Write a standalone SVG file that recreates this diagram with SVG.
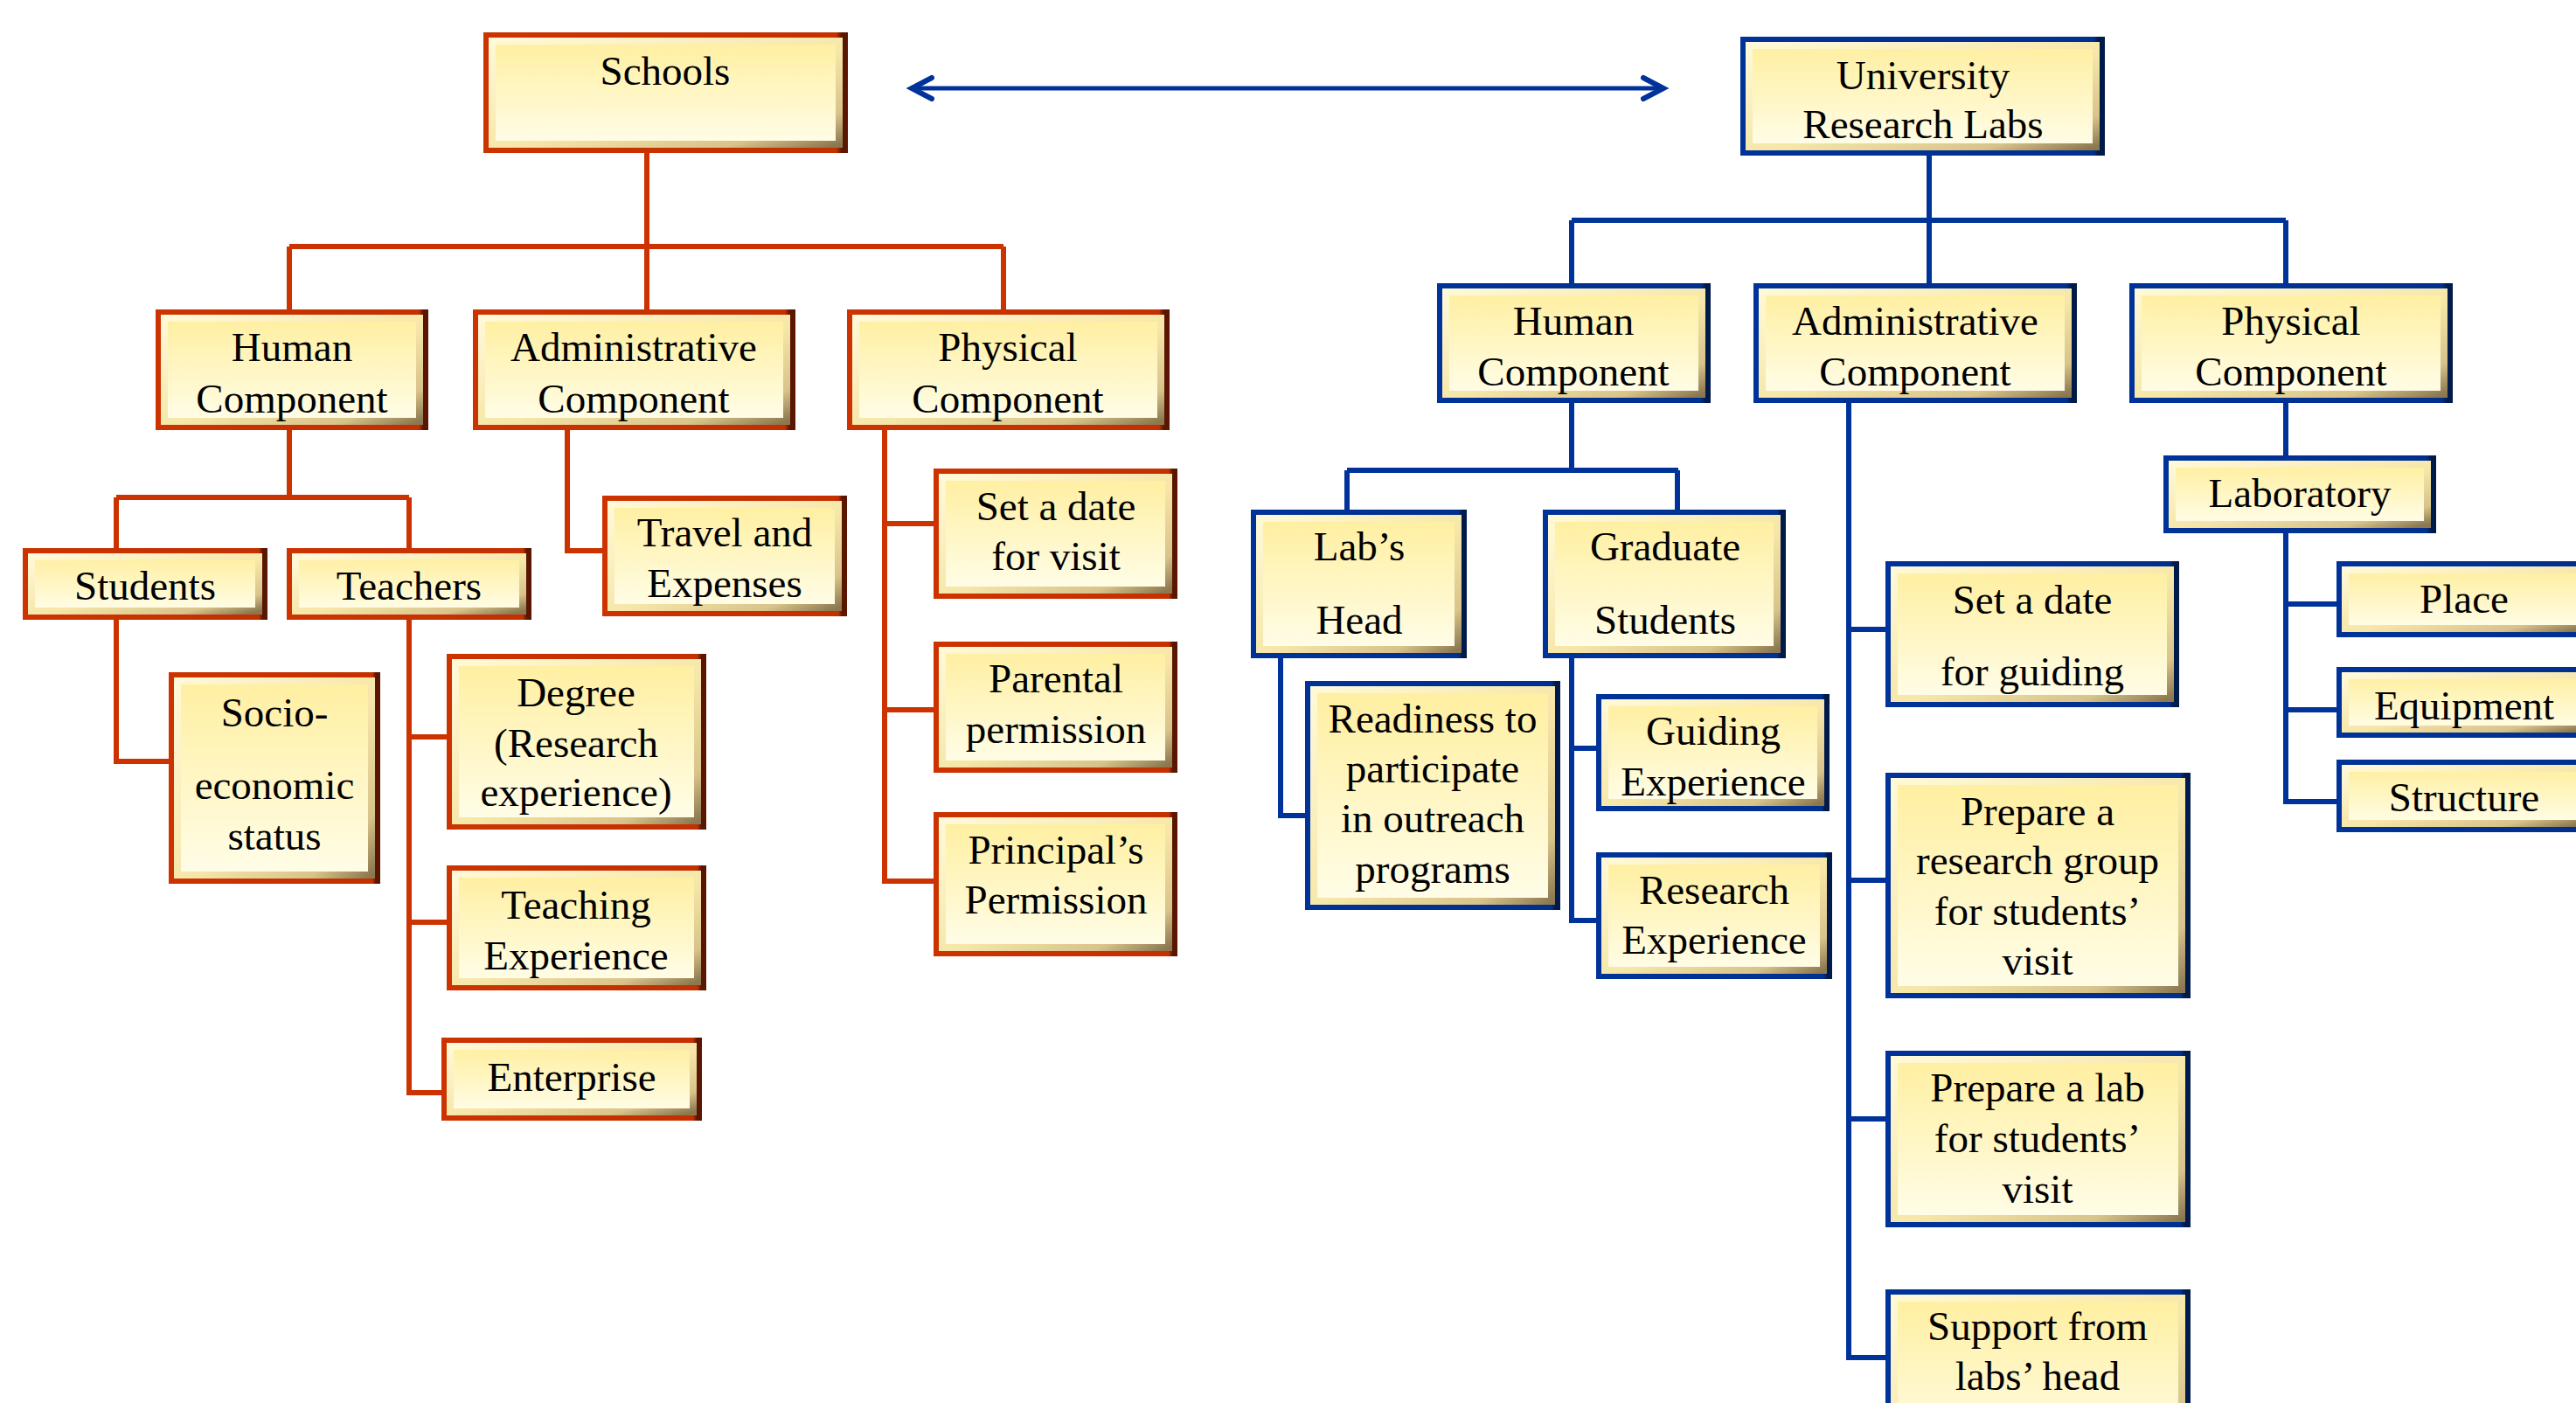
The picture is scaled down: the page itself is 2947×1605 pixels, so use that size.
<svg xmlns="http://www.w3.org/2000/svg" width="2947" height="1605" viewBox="0 0 2947 1605">
<defs>
<linearGradient id="fill" x1="0" y1="0" x2="0" y2="1">
<stop offset="0" stop-color="#FFEFA0"/>
<stop offset="1" stop-color="#FFFDE8"/>
</linearGradient>
<linearGradient id="bev" x1="0" y1="0" x2="1" y2="1">
<stop offset="0" stop-color="#FFF9D8"/>
<stop offset="0.55" stop-color="#F6E6A8"/>
<stop offset="0.85" stop-color="#D8C38A"/>
<stop offset="1" stop-color="#8C7850"/>
</linearGradient>
<linearGradient id="gR" x1="0" y1="0" x2="1" y2="0">
<stop offset="0" stop-color="#CC3300"/>
<stop offset="0.975" stop-color="#C43000"/>
<stop offset="0.99" stop-color="#5A1600"/>
</linearGradient>
<linearGradient id="gB" x1="0" y1="0" x2="1" y2="0">
<stop offset="0" stop-color="#003399"/>
<stop offset="0.975" stop-color="#00308F"/>
<stop offset="0.99" stop-color="#001A4A"/>
</linearGradient>
<marker id="chev" markerUnits="userSpaceOnUse" viewBox="-30 -20 40 40" markerWidth="40" markerHeight="40" refX="0" refY="0" orient="auto-start-reverse">
<path d="M-23,-12 L0,0 L-23,12" fill="none" stroke="#003399" stroke-width="6" stroke-linecap="round" stroke-linejoin="miter"/>
</marker>
<style>
.bd{fill:none;stroke-width:6}
.r .bd{stroke:url(#gR)}
.b .bd{stroke:url(#gB)}
.in{fill:url(#fill);stroke:url(#bev);stroke-width:8}
text{font-family:"Liberation Serif","Times New Roman",serif;font-size:47px;fill:#000;text-anchor:middle}
.cr{fill:none;stroke:#CC3300;stroke-width:6}
.cb{fill:none;stroke:#003399;stroke-width:6}
</style>
</defs>
<rect width="2947" height="1605" fill="#FFFFFF"/>

<g id="connectors">
<g class="cr">
<path d="M740,175V282M331,282H1148M331,282V355M740,282V355M1148,282V355"/>
<path d="M331,492V569M133,569H468M133,569V628M468,569V628"/>
<path d="M133,709V871H194"/>
<path d="M468,709V1250H506M468,843H511M468,1055H511"/>
<path d="M649,492V630H690"/>
<path d="M1012,492V1008H1069M1012,599H1069M1012,812H1069"/>
</g>
<g class="cb">
<path d="M2207,178V252M1798,252H2615M1798,252V325M2207,252V325M2615,252V325"/>
<path d="M1798,461V538M1541,538H1920M1541,538V584M1919,538V584"/>
<path d="M1465,753V933H1494"/>
<path d="M1798,753V1053H1827M1798,856H1827"/>
<path d="M2115,461V1553H2157M2115,720H2157M2115,1007H2157M2115,1280H2157"/>
<path d="M2615,461V521"/>
<path d="M2615,610V917H2673M2615,691H2673M2615,812H2673"/>
</g>
<path d="M1043,101H1903" fill="none" stroke="#003399" stroke-width="5" marker-start="url(#chev)" marker-end="url(#chev)"/>
</g>

<g id="schools" class="r"><rect class="bd" x="556" y="40" width="411" height="132"/><rect class="in" x="563" y="47" width="397" height="118"/><text x="761" y="97">Schools</text></g>
<g id="human-l" class="r"><rect class="bd" x="181" y="357" width="306" height="132"/><rect class="in" x="188" y="364" width="292" height="118"/><text x="334" y="413">Human</text><text x="334" y="472">Component</text></g>
<g id="admin-l" class="r"><rect class="bd" x="544" y="357" width="363" height="132"/><rect class="in" x="551" y="364" width="349" height="118"/><text x="725" y="413">Administrative</text><text x="725" y="472">Component</text></g>
<g id="physical-l" class="r"><rect class="bd" x="972" y="357" width="363" height="132"/><rect class="in" x="979" y="364" width="349" height="118"/><text x="1153" y="413">Physical</text><text x="1153" y="472">Component</text></g>
<g id="students-l" class="r"><rect class="bd" x="29" y="630" width="274" height="76"/><rect class="in" x="36" y="637" width="260" height="62"/><text x="166" y="686">Students</text></g>
<g id="teachers" class="r"><rect class="bd" x="331" y="630" width="274" height="76"/><rect class="in" x="338" y="637" width="260" height="62"/><text x="468" y="686">Teachers</text></g>
<g id="socio" class="r"><rect class="bd" x="196" y="772" width="236" height="236"/><rect class="in" x="203" y="779" width="222" height="222"/><text x="314" y="831">Socio-</text><text x="314" y="914">economic</text><text x="314" y="972">status</text></g>
<g id="degree" class="r"><rect class="bd" x="514" y="751" width="291" height="195"/><rect class="in" x="521" y="758" width="277" height="181"/><text x="659" y="808">Degree</text><text x="659" y="866">(Research</text><text x="659" y="922">experience)</text></g>
<g id="teaching" class="r"><rect class="bd" x="514" y="993" width="291" height="137"/><rect class="in" x="521" y="1000" width="277" height="123"/><text x="659" y="1051">Teaching</text><text x="659" y="1109">Experience</text></g>
<g id="enterprise" class="r"><rect class="bd" x="508" y="1190" width="292" height="89"/><rect class="in" x="515" y="1197" width="278" height="75"/><text x="654" y="1248">Enterprise</text></g>
<g id="travel" class="r"><rect class="bd" x="692" y="570" width="274" height="132"/><rect class="in" x="699" y="577" width="260" height="118"/><text x="829" y="625">Travel and</text><text x="829" y="683">Expenses</text></g>
<g id="date-visit" class="r"><rect class="bd" x="1071" y="539" width="273" height="143"/><rect class="in" x="1078" y="546" width="259" height="129"/><text x="1208" y="595">Set a date</text><text x="1208" y="652">for visit</text></g>
<g id="parental" class="r"><rect class="bd" x="1071" y="737" width="273" height="144"/><rect class="in" x="1078" y="744" width="259" height="130"/><text x="1208" y="792">Parental</text><text x="1208" y="850">permission</text></g>
<g id="principal" class="r"><rect class="bd" x="1071" y="932" width="273" height="159"/><rect class="in" x="1078" y="939" width="259" height="145"/><text x="1208" y="988">Principal’s</text><text x="1208" y="1045">Permission</text></g>

<g id="university" class="b"><rect class="bd" x="1994" y="45" width="411" height="130"/><rect class="in" x="2001" y="52" width="397" height="116"/><text x="2200" y="102">University</text><text x="2200" y="158">Research Labs</text></g>
<g id="human-r" class="b"><rect class="bd" x="1647" y="327" width="307" height="131"/><rect class="in" x="1654" y="334" width="293" height="117"/><text x="1800" y="383">Human</text><text x="1800" y="441">Component</text></g>
<g id="admin-r" class="b"><rect class="bd" x="2009" y="327" width="364" height="131"/><rect class="in" x="2016" y="334" width="350" height="117"/><text x="2191" y="383">Administrative</text><text x="2191" y="441">Component</text></g>
<g id="physical-r" class="b"><rect class="bd" x="2439" y="327" width="364" height="131"/><rect class="in" x="2446" y="334" width="350" height="117"/><text x="2621" y="383">Physical</text><text x="2621" y="441">Component</text></g>
<g id="labs-head" class="b"><rect class="bd" x="1434" y="586" width="241" height="164"/><rect class="in" x="1441" y="593" width="227" height="150"/><text x="1555" y="641">Lab’s</text><text x="1555" y="725">Head</text></g>
<g id="graduate" class="b"><rect class="bd" x="1768" y="586" width="272" height="164"/><rect class="in" x="1775" y="593" width="258" height="150"/><text x="1905" y="641">Graduate</text><text x="1905" y="725">Students</text></g>
<g id="readiness" class="b"><rect class="bd" x="1496" y="782" width="286" height="256"/><rect class="in" x="1503" y="789" width="272" height="242"/><text x="1639" y="838">Readiness to</text><text x="1639" y="895">participate</text><text x="1639" y="952">in outreach</text><text x="1639" y="1010">programs</text></g>
<g id="guiding" class="b"><rect class="bd" x="1829" y="797" width="261" height="128"/><rect class="in" x="1836" y="804" width="247" height="114"/><text x="1960" y="852">Guiding</text><text x="1960" y="910">Experience</text></g>
<g id="research-exp" class="b"><rect class="bd" x="1829" y="978" width="264" height="139"/><rect class="in" x="1836" y="985" width="250" height="125"/><text x="1961" y="1034">Research</text><text x="1961" y="1091">Experience</text></g>
<g id="date-guiding" class="b"><rect class="bd" x="2160" y="645" width="330" height="161"/><rect class="in" x="2167" y="652" width="316" height="147"/><text x="2325" y="702">Set a date</text><text x="2325" y="784">for guiding</text></g>
<g id="research-group" class="b"><rect class="bd" x="2160" y="887" width="343" height="252"/><rect class="in" x="2167" y="894" width="329" height="238"/><text x="2331" y="944">Prepare a</text><text x="2331" y="1000">research group</text><text x="2331" y="1058">for students’</text><text x="2331" y="1115">visit</text></g>
<g id="prepare-lab" class="b"><rect class="bd" x="2160" y="1205" width="343" height="196"/><rect class="in" x="2167" y="1212" width="329" height="182"/><text x="2331" y="1260">Prepare a lab</text><text x="2331" y="1318">for students’</text><text x="2331" y="1376">visit</text></g>
<g id="support" class="b"><rect class="bd" x="2160" y="1478" width="343" height="194"/><rect class="in" x="2167" y="1485" width="329" height="180"/><text x="2331" y="1533">Support from</text><text x="2331" y="1590">labs’ head</text></g>
<g id="laboratory" class="b"><rect class="bd" x="2478" y="524" width="306" height="83"/><rect class="in" x="2485" y="531" width="292" height="69"/><text x="2631" y="580">Laboratory</text></g>
<g id="place" class="b"><rect class="bd" x="2676" y="645" width="286" height="81"/><rect class="in" x="2683" y="652" width="272" height="67"/><text x="2819" y="701">Place</text></g>
<g id="equipment" class="b"><rect class="bd" x="2676" y="766" width="286" height="75"/><rect class="in" x="2683" y="773" width="272" height="61"/><text x="2819" y="823">Equipment</text></g>
<g id="structure" class="b"><rect class="bd" x="2676" y="872" width="286" height="77"/><rect class="in" x="2683" y="879" width="272" height="63"/><text x="2819" y="928">Structure</text></g>
</svg>
